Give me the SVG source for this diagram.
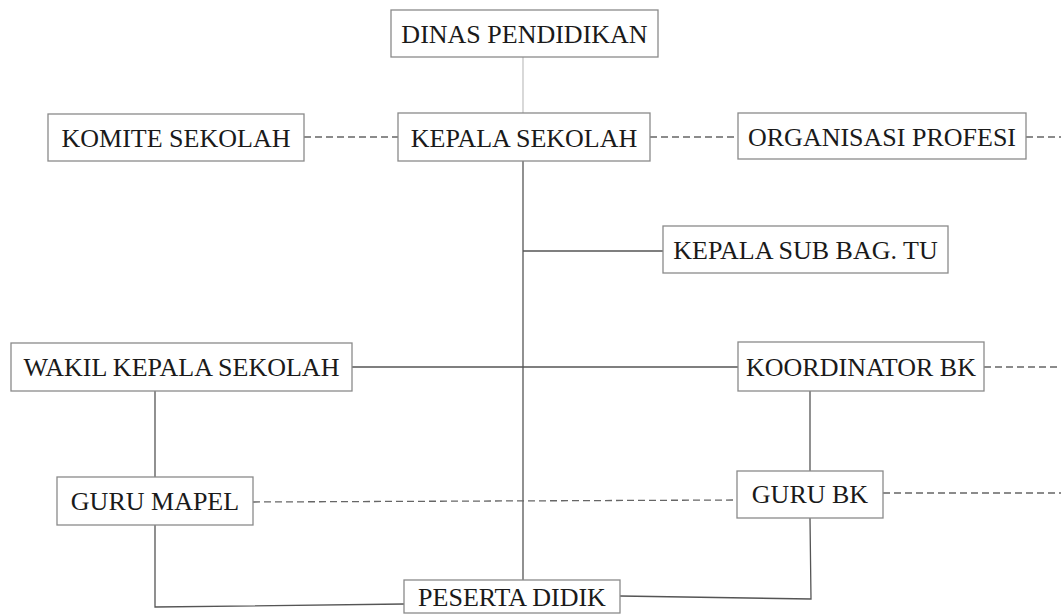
<svg xmlns="http://www.w3.org/2000/svg" width="1061" height="615" viewBox="0 0 1061 615">
<style>
.box{fill:#fff;stroke:#8a8a8a;stroke-width:1.3}
.t{font-family:"Liberation Serif","Times New Roman",serif;font-size:26px;fill:#1a1a1a;text-anchor:middle}
.ln{fill:none;stroke:#555;stroke-width:1.3}
.dash{fill:none;stroke:#666;stroke-width:1.3;stroke-dasharray:7 4}
.light{fill:none;stroke:#c4c4c4;stroke-width:1.3}
</style>
<rect width="1061" height="615" fill="#fff"/>
<g id="connectors">
<line class="light" x1="523" y1="57" x2="523" y2="113"/>
<line class="dash" x1="304" y1="137" x2="398" y2="137"/>
<line class="dash" x1="650" y1="137" x2="738" y2="137"/>
<line class="dash" x1="1026" y1="137" x2="1061" y2="137"/>
<line class="ln" x1="523" y1="161" x2="523" y2="580"/>
<line class="ln" x1="523" y1="251" x2="663" y2="251"/>
<line class="ln" x1="352" y1="367" x2="738" y2="367"/>
<line class="dash" x1="984" y1="367" x2="1061" y2="367"/>
<line class="ln" x1="155" y1="391" x2="155" y2="477"/>
<line class="ln" x1="810" y1="391" x2="810" y2="471"/>
<line class="dash" x1="253" y1="502" x2="737" y2="500"/>
<line class="dash" x1="883" y1="493" x2="1061" y2="493"/>
<polyline class="ln" points="155,525 155,607 404,604"/>
<polyline class="ln" points="810,518 811,599 620,596"/>
</g>
<g id="dinas"><rect class="box" x="391" y="10" width="267" height="47"/><text class="t" x="524.5" y="43">DINAS PENDIDIKAN</text></g>
<g id="kepala"><rect class="box" x="398" y="113" width="252" height="48"/><text class="t" x="524" y="147">KEPALA SEKOLAH</text></g>
<g id="komite"><rect class="box" x="48" y="114" width="256" height="47"/><text class="t" x="176" y="147">KOMITE SEKOLAH</text></g>
<g id="organisasi"><rect class="box" x="738" y="113" width="288" height="46"/><text class="t" x="882" y="146">ORGANISASI PROFESI</text></g>
<g id="subbag"><rect class="box" x="663" y="226" width="285" height="47"/><text class="t" x="805.5" y="259">KEPALA SUB BAG. TU</text></g>
<g id="wakil"><rect class="box" x="11" y="343" width="341" height="48"/><text class="t" x="181.5" y="376">WAKIL KEPALA SEKOLAH</text></g>
<g id="koordinator"><rect class="box" x="738" y="342" width="246" height="49"/><text class="t" x="861" y="376">KOORDINATOR BK</text></g>
<g id="gurumapel"><rect class="box" x="57" y="477" width="196" height="48"/><text class="t" x="155" y="510">GURU MAPEL</text></g>
<g id="gurubk"><rect class="box" x="737" y="471" width="146" height="47"/><text class="t" x="810" y="503">GURU BK</text></g>
<g id="peserta"><rect class="box" x="404" y="580" width="216" height="33"/><text class="t" x="512" y="606">PESERTA DIDIK</text></g>
</svg>
